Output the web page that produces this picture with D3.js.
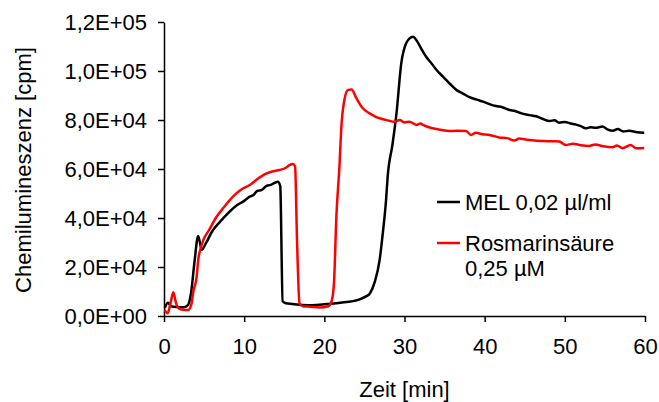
<!DOCTYPE html>
<html>
<head>
<meta charset="utf-8">
<script src="https://cdn.jsdelivr.net/npm/d3@7"></script>
<style>
  html, body { margin: 0; padding: 0; background: #fff; }
  svg { display: block; }
  text { font-family: "Liberation Sans", Arial, sans-serif; fill: #000; }
</style>
</head>
<body>
<svg id="chart" width="659" height="402"></svg>
<script>
// Chemiluminescence time courses (time in min, counts in cpm)
const melTime = [0.1, 0.5, 0.9, 1.5, 2.5, 3.0, 3.4, 3.8, 4.27, 4.7, 5.2, 6.0, 7.0, 8.0, 9.0, 10.0, 10.7, 11.2, 11.6, 12.2, 12.8, 13.3, 14.2, 14.5, 14.8, 15.2, 16.0, 17.3, 18.5, 20.3, 22.0, 24.4, 25.2, 25.7, 26.3, 26.9, 27.3, 27.7, 27.9, 28.5, 29.0, 29.6, 30.2, 30.6, 31.05, 31.6, 32.1, 32.7, 33.4, 34.0, 34.8, 35.6, 36.5, 37.2, 38.1, 39.0, 39.8, 40.6, 41.4, 42.2, 43.1, 43.8, 44.5, 45.6, 46.4, 47.2, 48.1, 48.7, 49.3, 50.0, 50.6, 51.3, 52.0, 52.6, 53.2, 53.8, 54.7, 55.3, 56.0, 56.6, 57.3, 58.0, 59.0, 59.9];
const melValues = [3300, 5400, 4000, 3700, 3600, 4500, 10000, 22000, 32700, 27000, 29500, 34500, 38500, 42000, 45000, 47000, 48700, 49500, 51000, 51500, 53100, 53500, 54800, 53000, 6000, 5200, 4900, 4500, 4400, 4900, 5400, 6800, 8000, 9300, 14000, 22900, 34000, 47350, 56900, 70000, 82700, 103200, 111300, 113200, 114000, 112000, 109000, 105800, 103000, 100400, 97700, 95000, 92200, 91000, 89300, 88300, 87500, 86500, 85700, 85200, 84100, 83700, 82800, 82000, 81500, 80500, 79600, 79900, 78900, 79200, 78700, 78200, 77500, 76600, 77000, 76800, 77300, 76200, 75600, 76300, 75300, 75600, 75000, 74800];

const rosTime = [0.1, 0.45, 0.8, 1.16, 1.45, 1.66, 2.2, 3.0, 3.4, 3.65, 4.07, 4.27, 4.6, 4.9, 5.6, 6.56, 7.5, 8.6, 9.6, 10.7, 11.7, 12.8, 13.5, 14.4, 15.2, 15.6, 16.1, 16.35, 16.6, 16.9, 17.3, 18.2, 19.4, 20.5, 20.9, 21.2, 21.5, 21.9, 22.1, 22.5, 22.95, 23.4, 24.0, 24.8, 25.65, 26.3, 26.9, 28.1, 28.7, 29.4, 30.0, 30.6, 31.5, 32.0, 32.3, 33.5, 34.5, 35.6, 36.5, 37.7, 38.3, 38.9, 39.7, 40.6, 41.8, 42.8, 43.7, 44.3, 45.3, 46.5, 47.5, 48.5, 49.3, 50.1, 51.0, 52.0, 53.0, 53.8, 54.8, 55.95, 56.5, 57.2, 58.2, 58.9, 59.9];
const rosValues = [2400, 1100, 5000, 9700, 6000, 3800, 2600, 2400, 4500, 9900, 16000, 22900, 28000, 31000, 35000, 40500, 44500, 48700, 51500, 53500, 56000, 58200, 59000, 59600, 60500, 61500, 62000, 61000, 30000, 5200, 4000, 3800, 3500, 4000, 6000, 13300, 40500, 62000, 75900, 88200, 92300, 92500, 88900, 84800, 82700, 81500, 80700, 79700, 79300, 80000, 79000, 79300, 78000, 78600, 78000, 76600, 76000, 75500, 75600, 75500, 73900, 74800, 74200, 73900, 72900, 72600, 71600, 72400, 71900, 71500, 71400, 71300, 71200, 69800, 70300, 69700, 69400, 70000, 69300, 68900, 69600, 68500, 69800, 68500, 68600];

const xTicks = [0, 10, 20, 30, 40, 50, 60];
const yTicks = [0, 20000, 40000, 60000, 80000, 100000, 120000];
const yTickLabels = ["0,0E+00", "2,0E+04", "4,0E+04", "6,0E+04", "8,0E+04", "1,0E+05", "1,2E+05"];

const seriesNames = ["MEL 0,02 µl/ml", "Rosmarinsäure"];
const seriesNameSecondLine = ["", "0,25 µM"];
const seriesColors = ["#000000", "#ff0000"];

const svg = d3.select("#chart");
const x = d3.scaleLinear().domain([0, 60]).range([164, 645]);
const y = d3.scaleLinear().domain([0, 120000]).range([316, 22]);
const fontSize = 22;

const series = [
  melTime.map((t, i) => [t, melValues[i]]),
  rosTime.map((t, i) => [t, rosValues[i]])
];

// Axes
const xAxis = svg.append("g")
  .attr("transform", `translate(0,${y(0)})`)
  .call(d3.axisBottom(x).tickValues(xTicks).tickSize(6).tickSizeOuter(0).tickPadding(16));
const yAxis = svg.append("g")
  .attr("transform", `translate(${x(0)},0)`)
  .call(d3.axisLeft(y).tickValues(yTicks).tickFormat((d, i) => yTickLabels[i])
    .tickSize(6).tickSizeOuter(0).tickPadding(11));

[xAxis, yAxis].forEach(g => {
  g.attr("font-family", null).attr("font-size", null);
  g.selectAll("path.domain").attr("stroke", "#000").attr("stroke-width", 1.5);
  g.selectAll(".tick line").attr("stroke", "#000").attr("stroke-width", 1.5);
  g.selectAll(".tick text").attr("font-size", fontSize).attr("fill", "#000");
});

// Curves
const line = d3.line()
  .x(d => x(d[0]))
  .y(d => y(d[1]))
  .curve(d3.curveMonotoneX);

svg.append("g").selectAll("path.series")
  .data(series)
  .join("path")
  .attr("class", "series")
  .attr("d", line)
  .attr("fill", "none")
  .attr("stroke", (d, i) => seriesColors[i])
  .attr("stroke-width", 2.5)
  .attr("stroke-linejoin", "round");

// Axis titles
svg.append("text")
  .attr("x", (x(0) + x(60)) / 2)
  .attr("y", 397)
  .attr("text-anchor", "middle")
  .attr("font-size", fontSize)
  .text("Zeit [min]");

svg.append("text")
  .attr("transform", `translate(31,${(y(0) + y(120000)) / 2 + 1}) rotate(-90)`)
  .attr("text-anchor", "middle")
  .attr("font-size", fontSize)
  .text("Chemilumineszenz [cpm]");

// Legend
const legendY = [202, 243];
const legend = svg.append("g");
seriesNames.forEach((name, i) => {
  legend.append("line")
    .attr("x1", 437).attr("x2", 460)
    .attr("y1", legendY[i]).attr("y2", legendY[i])
    .attr("stroke", seriesColors[i])
    .attr("stroke-width", 2.5);
  const t = legend.append("text")
    .attr("x", 465)
    .attr("y", legendY[i] + 8)
    .attr("font-size", fontSize);
  t.append("tspan").attr("x", 465).text(name);
  if (seriesNameSecondLine[i]) {
    t.append("tspan").attr("x", 465).attr("dy", 25).text(seriesNameSecondLine[i]);
  }
});
</script>
</body>
</html>
